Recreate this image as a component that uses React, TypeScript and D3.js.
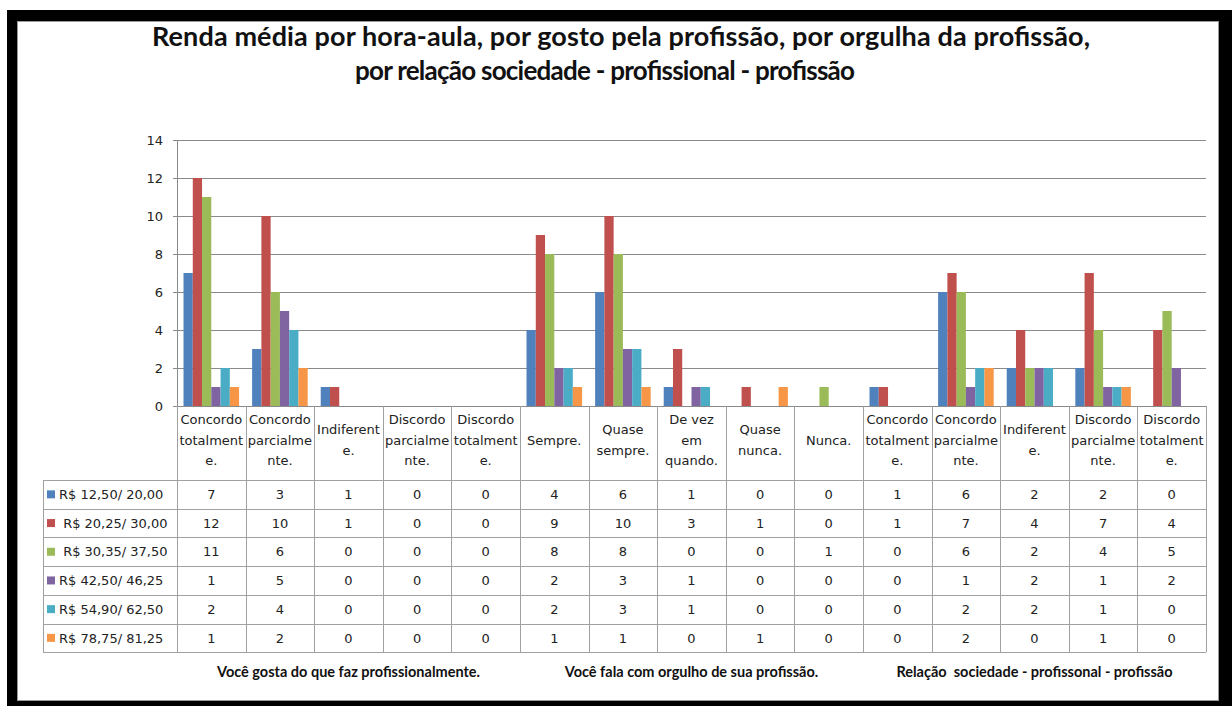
import React, { useEffect, useRef } from "react";
import * as d3 from "d3";

const titleLines = [
  "Renda média por hora-aula, por gosto pela profissão, por orgulha da profissão,",
  "por relação sociedade - profissional - profissão",
];

const categories = [
  "Concordo|totalment|e.",
  "Concordo|parcialme|nte.",
  "Indiferent|e.",
  "Discordo|parcialme|nte.",
  "Discordo|totalment|e.",
  "Sempre.",
  "Quase|sempre.",
  "De vez|em|quando.",
  "Quase|nunca.",
  "Nunca.",
  "Concordo|totalment|e.",
  "Concordo|parcialme|nte.",
  "Indiferent|e.",
  "Discordo|parcialme|nte.",
  "Discordo|totalment|e.",
];

const groupLabels = [
  "Você gosta do que faz profissionalmente.",
  "Você fala com orgulho de sua profissão.",
  "Relação  sociedade - profissonal - profissão",
];
const groupSizes = [5, 5, 5];

const seriesNames = [
  "R$ 12,50/ 20,00",
  " R$ 20,25/ 30,00",
  " R$ 30,35/ 37,50",
  "R$ 42,50/ 46,25",
  "R$ 54,90/ 62,50",
  "R$ 78,75/ 81,25",
];
const seriesColors = ["#4F81BD", "#C0504D", "#9BBB59", "#8064A2", "#4BACC6", "#F79646"];

const s1 = [7, 3, 1, 0, 0, 4, 6, 1, 0, 0, 1, 6, 2, 2, 0];
const s2 = [12, 10, 1, 0, 0, 9, 10, 3, 1, 0, 1, 7, 4, 7, 4];
const s3 = [11, 6, 0, 0, 0, 8, 8, 0, 0, 1, 0, 6, 2, 4, 5];
const s4 = [1, 5, 0, 0, 0, 2, 3, 1, 0, 0, 0, 1, 2, 1, 2];
const s5 = [2, 4, 0, 0, 0, 2, 3, 1, 0, 0, 0, 2, 2, 1, 0];
const s6 = [1, 2, 0, 0, 0, 1, 1, 0, 1, 0, 0, 2, 0, 1, 0];
const seriesValues = [s1, s2, s3, s4, s5, s6];

const yTicks = [0, 2, 4, 6, 8, 10, 12, 14];

export default function App() {
  const ref = useRef<SVGSVGElement | null>(null);

  useEffect(() => {
    const W = 1232;
    const H = 706;
    const svg = d3.select(ref.current);
    svg.selectAll("*").remove();
    svg.attr("width", W).attr("height", H);

    svg.append("rect").attr("width", W).attr("height", H).attr("fill", "#ffffff");

    // frame
    svg
      .append("path")
      .attr("fill-rule", "evenodd")
      .attr("fill", "#000")
      .attr("d", "M7,10H1232V706H7Z M17,21H1219V701H17Z");
    svg
      .append("rect")
      .attr("x", 17.5)
      .attr("y", 21.5)
      .attr("width", 1201)
      .attr("height", 679)
      .attr("fill", "none")
      .attr("stroke", "#9a9a9a");

    const tableFont = "'DejaVu Sans', Verdana, sans-serif";
    const boldFont = "Lato, 'Open Sans', sans-serif";

    // title
    const title = svg
      .append("g")
      .attr("font-family", boldFont)
      .attr("font-weight", 700)
      .attr("fill", "#111");
    title
      .append("text")
      .attr("x", 621)
      .attr("y", 46)
      .attr("font-size", 27)
      .attr("text-anchor", "middle")
      .attr("textLength", 938)
      .attr("lengthAdjust", "spacing")
      .text(titleLines[0]);
    title
      .append("text")
      .attr("x", 605)
      .attr("y", 80)
      .attr("font-size", 26)
      .attr("text-anchor", "middle")
      .attr("textLength", 500)
      .attr("lengthAdjust", "spacing")
      .text(titleLines[1]);

    const left = 177;
    const right = 1206;
    const top = 140;
    const base = 406;

    const x0 = d3
      .scaleBand<number>()
      .domain(d3.range(categories.length))
      .range([left, right]);
    const bw = x0.bandwidth();
    const x1 = d3
      .scaleBand<number>()
      .domain(d3.range(seriesValues.length))
      .range([bw * 0.095, bw * 0.905]);
    const y = d3.scaleLinear().domain([0, 14]).range([base, top]);

    // gridlines
    const grid = svg.append("g");
    yTicks.forEach((t) => {
      grid
        .append("line")
        .attr("x1", left - 4)
        .attr("x2", right)
        .attr("y1", Math.round(y(t)) + 0.5)
        .attr("y2", Math.round(y(t)) + 0.5)
        .attr("stroke", "#8a8a8a")
        .attr("stroke-width", 1);
      grid
        .append("text")
        .attr("x", 163)
        .attr("y", y(t))
        .attr("dy", "0.36em")
        .attr("text-anchor", "end")
        .attr("font-family", tableFont)
        .attr("font-size", 13)
        .attr("fill", "#222")
        .text(String(t));
    });
    grid
      .append("line")
      .attr("x1", left + 0.5)
      .attr("x2", left + 0.5)
      .attr("y1", top)
      .attr("y2", base)
      .attr("stroke", "#8a8a8a");

    // bars
    const bars = svg.append("g");
    seriesValues.forEach((vals, j) => {
      vals.forEach((v, i) => {
        if (v <= 0) return;
        bars
          .append("rect")
          .attr("x", (x0(i) as number) + (x1(j) as number))
          .attr("y", y(v))
          .attr("width", x1.bandwidth())
          .attr("height", y(0) - y(v))
          .attr("fill", seriesColors[j]);
      });
    });

    // table
    const headTop = base;
    const headBottom = 480;
    const rowH = 28.7;
    const tableBottom = headBottom + rowH * seriesValues.length;
    const legLeft = 43;
    const tbl = svg.append("g").attr("stroke", "#a0a0a0").attr("stroke-width", 1);
    d3.range(categories.length + 1).forEach((i) => {
      const xx = i < categories.length ? (x0(i) as number) : right;
      tbl
        .append("line")
        .attr("x1", Math.round(xx) + 0.5)
        .attr("x2", Math.round(xx) + 0.5)
        .attr("y1", headTop)
        .attr("y2", tableBottom);
    });
    d3.range(seriesValues.length + 1).forEach((k) => {
      const yy = Math.round(headBottom + k * rowH) + 0.5;
      tbl.append("line").attr("x1", legLeft).attr("x2", right).attr("y1", yy).attr("y2", yy);
    });
    tbl
      .append("line")
      .attr("x1", legLeft + 0.5)
      .attr("x2", legLeft + 0.5)
      .attr("y1", headBottom)
      .attr("y2", tableBottom);

    // header labels
    const hdr = svg
      .append("g")
      .attr("font-family", tableFont)
      .attr("font-size", 13)
      .attr("fill", "#222")
      .attr("text-anchor", "middle");
    categories.forEach((c, i) => {
      const lines = c.split("|");
      const cx = (x0(i) as number) + bw / 2;
      const cy = 440;
      lines.forEach((ln, k) => {
        hdr
          .append("text")
          .attr("x", cx)
          .attr("y", cy + (k - (lines.length - 1) / 2) * 20.5)
          .attr("dy", "0.36em")
          .text(ln);
      });
    });

    // rows
    const rows = svg
      .append("g")
      .attr("font-family", tableFont)
      .attr("font-size", 13)
      .attr("fill", "#222");
    seriesValues.forEach((vals, j) => {
      const cy = headBottom + j * rowH + rowH / 2;
      rows
        .append("rect")
        .attr("x", 47)
        .attr("y", cy - 4)
        .attr("width", 8)
        .attr("height", 8)
        .attr("fill", seriesColors[j]);
      rows
        .append("text")
        .attr("x", 59)
        .attr("y", cy)
        .attr("dy", "0.36em")
        .style("white-space", "pre")
        .text(seriesNames[j]);
      vals.forEach((v, i) => {
        rows
          .append("text")
          .attr("x", (x0(i) as number) + bw / 2)
          .attr("y", cy)
          .attr("dy", "0.36em")
          .attr("text-anchor", "middle")
          .text(String(v));
      });
    });

    // group labels
    const grp = svg
      .append("g")
      .attr("font-family", boldFont)
      .attr("font-weight", 700)
      .attr("font-size", 14.5)
      .attr("fill", "#111")
      .attr("text-anchor", "middle");
    let start = 0;
    groupLabels.forEach((g, gi) => {
      const end = start + groupSizes[gi];
      const gx0 = x0(start) as number;
      const gx1 = end < categories.length ? (x0(end) as number) : right;
      grp
        .append("text")
        .attr("x", (gx0 + gx1) / 2)
        .attr("y", 677)
        .style("white-space", "pre")
        .text(g);
      start = end;
    });
  }, []);

  return (
    <div style={{ position: "absolute", left: 0, top: 0 }}>
      <svg ref={ref} width={1232} height={706} />
    </div>
  );
}
